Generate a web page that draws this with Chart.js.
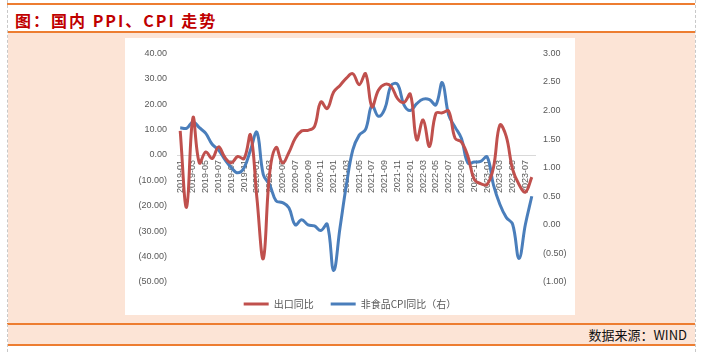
<!DOCTYPE html>
<html>
<head>
<meta charset="utf-8">
<script src="https://cdn.jsdelivr.net/npm/chart.js@4.4.1/dist/chart.umd.min.js"></script>
<style>
  body { margin: 0; width: 701px; height: 352px; background: #fff; position: relative; overflow: hidden; font-family: "Noto Sans CJK SC", sans-serif; }
  .vline { position: absolute; top: 0; height: 352px; border-left: 1px dashed #c8c8c8; }
  .hline { position: absolute; left: 7px; width: 688px; height: 0; border-top: 2px solid #ed7d31; }
  .peach { position: absolute; background: #fce4d6; }
  #title { position: absolute; left: 15px; top: 8px; font-size: 16px; font-weight: bold; color: #c00000; line-height: 24px; white-space: nowrap; letter-spacing: 2px; }
  #source { position: absolute; right: 14px; top: 325px; font-size: 13px; color: #111; line-height: 20px; }
  #box { position: absolute; left: 125px; top: 38px; width: 450px; height: 277px; background: #fff; }
  #wrap { position: absolute; left: 125px; top: 38px; width: 450px; height: 281px; }
</style>
</head>
<body>
<div class="peach" style="left:8px;top:33px;width:687px;height:291px"></div>
<div class="peach" style="left:8px;top:325px;width:687px;height:20px"></div>
<div id="box"></div>
<div class="hline" style="top:3px"></div>
<div class="hline" style="top:31px"></div>
<div class="hline" style="top:323px"></div>
<div class="hline" style="top:344px"></div>
<div class="vline" style="left:7px"></div>
<div class="vline" style="left:695px"></div>
<div id="title">图：国内 PPI、CPI 走势</div>
<div id="source">数据来源：WIND</div>
<div id="wrap"><canvas id="grafico"></canvas></div>
<script>
const meses = [
  '2019-01','2019-02','2019-03','2019-04','2019-05','2019-06','2019-07','2019-08','2019-09','2019-10','2019-11','2019-12',
  '2020-01','2020-02','2020-03','2020-04','2020-05','2020-06','2020-07','2020-08','2020-09','2020-10','2020-11','2020-12',
  '2021-01','2021-02','2021-03','2021-04','2021-05','2021-06','2021-07','2021-08','2021-09','2021-10','2021-11','2021-12',
  '2022-01','2022-02','2022-03','2022-04','2022-05','2022-06','2022-07','2022-08','2022-09','2022-10','2022-11','2022-12',
  '2023-01','2023-02','2023-03','2023-04','2023-05','2023-06','2023-07','2023-08'
];

// 出口同比 (left axis, %)
const exportYoY = [
  9.5, -20.6, 14.7, -3.1, 1.2, -1.4, 3.2, -1.0, -3.1, -0.6, -1.4, 7.9,
  -17.0, -40.8, -7.0, 3.0, -3.1, 1.0, 6.6, 9.5, 9.7, 11.2, 20.9, 18.3,
  24.8, 27.4, 30.3, 32.0, 27.7, 32.0, 19.0, 25.5, 27.8, 27.0, 22.2, 20.7,
  23.9, 6.0, 13.8, 3.4, 16.4, 16.6, 17.3, 6.6, 5.1, -0.5, -9.6, -11.3,
  -11.6, -5.0, 11.8, 7.3, -5.7, -11.6, -14.6, -8.7
];

// 非食品CPI同比 (right axis, %)
const nonFoodCpi = [
  1.70, 1.69, 1.80, 1.70, 1.60, 1.41, 1.31, 1.14, 1.00, 0.91, 1.00, 1.31,
  1.62, 0.88, 0.70, 0.42, 0.39, 0.30, 0.00, 0.09, 0.00, -0.02, -0.10, 0.01,
  -0.80, -0.05, 0.70, 1.31, 1.57, 1.67, 2.09, 1.90, 2.03, 2.44, 2.46, 2.10,
  2.00, 2.12, 2.20, 2.19, 2.10, 2.49, 1.92, 1.71, 1.51, 1.08, 1.10, 1.11,
  1.19, 0.70, 0.36, 0.13, 0.01, -0.59, 0.01, 0.50
];

const corTexto = '#595959';
const fmt = v => v < 0 ? '(' + Math.abs(v).toFixed(2) + ')' : v.toFixed(2);

const ctx = document.getElementById('grafico').getContext('2d');

const chart = new Chart(ctx, {
  type: 'line',
  data: {
    labels: meses,
    datasets: [
      {
        label: '出口同比',
        data: exportYoY,
        borderColor: '#c0504d',
        backgroundColor: '#c0504d',
        borderWidth: 3,
        pointRadius: 0,
        tension: 0.4,
        yAxisID: 'y'
      },
      {
        label: '非食品CPI同比（右）',
        data: nonFoodCpi,
        borderColor: '#4a7ebb',
        backgroundColor: '#4a7ebb',
        borderWidth: 3,
        pointRadius: 0,
        tension: 0.4,
        yAxisID: 'y1'
      }
    ]
  },
  options: {
    animation: false,
    responsive: true,
    maintainAspectRatio: false,
    layout: { padding: { top: 13, left: 0, right: 0, bottom: 0 } },
    plugins: {
      tooltip: { enabled: false },
      legend: {
        position: 'bottom',
        labels: {
          usePointStyle: true,
          pointStyle: 'line',
          pointStyleWidth: 25,
          padding: 17,
          color: corTexto,
          font: { family: '"Noto Sans CJK SC", sans-serif', size: 10 }
        }
      }
    },
    scales: {
      x: {
        type: 'category',
        position: { y: 0 },
        offset: true,
        grid: { display: true, drawOnChartArea: false, drawTicks: false },
        border: { display: true, color: '#d9d9d9', width: 1 },
        ticks: {
          autoSkip: false,
          minRotation: 90,
          maxRotation: 90,
          padding: 5,
          color: corTexto,
          font: { family: '"Liberation Sans", Arial, sans-serif', size: 9 },
          callback: function (v, i) { return i % 2 === 0 ? meses[i] : ''; }
        }
      },
      y: {
        position: 'left',
        min: -50,
        max: 40,
        grid: { display: false, drawTicks: false },
        border: { display: false },
        afterFit: s => { s.width = 52; },
        ticks: {
          stepSize: 10,
          padding: 10,
          color: corTexto,
          font: { family: '"Liberation Sans", Arial, sans-serif', size: 9 },
          callback: v => fmt(v)
        }
      },
      y1: {
        position: 'right',
        min: -1,
        max: 3,
        grid: { display: false, drawTicks: false },
        border: { display: false },
        afterFit: s => { s.width = 40; },
        ticks: {
          stepSize: 0.5,
          padding: 8,
          color: corTexto,
          font: { family: '"Liberation Sans", Arial, sans-serif', size: 9 },
          callback: v => fmt(v)
        }
      }
    }
  }
});
</script>
</body>
</html>
